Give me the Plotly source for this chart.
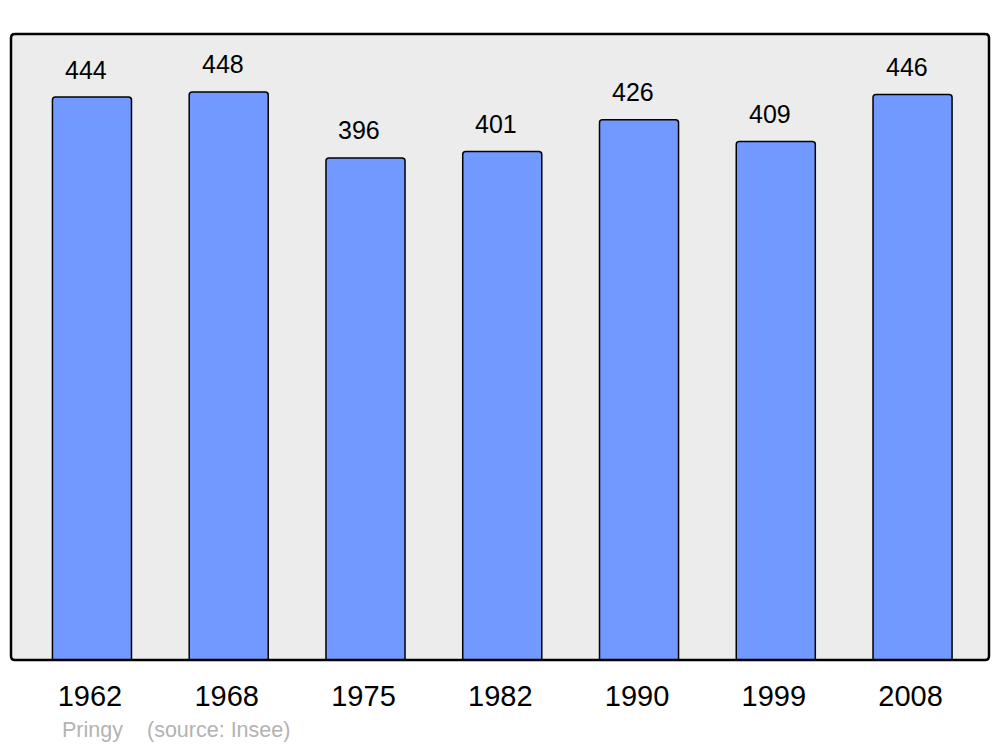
import plotly.graph_objects as go

years = ["1962", "1968", "1975", "1982", "1990", "1999", "2008"]
population = [444, 448, 396, 401, 426, 409, 446]
commune = "Pringy"
source_text = "(source: Insee)"

W, H = 1000, 747
L, R, T, B = 11, 11, 34, 87
pw, ph = W - L - R, H - T - B

fig = go.Figure(go.Bar(
    x=years, y=population, width=0.578,
    marker=dict(color="#7299ff", line=dict(color="black", width=1.5), cornerradius=3),
    hoverinfo="skip",
))

for i, v in enumerate(population):
    fig.add_annotation(x=i, y=v, text=str(v), showarrow=False, yshift=27.5, xshift=-6,
                       font=dict(family="Liberation Sans, Arial", size=25, color="black"),
                       yanchor="middle")

foot_y = -(730 - (T + ph)) / ph
foot_font = dict(family="Liberation Sans, Arial", size=21.5, color="#b3b3b3")
fig.add_annotation(xref="paper", yref="paper", x=(60 - L) / pw, y=foot_y,
                   xanchor="left", yanchor="middle", showarrow=False,
                   text=commune, font=foot_font)
fig.add_annotation(xref="paper", yref="paper", x=(145 - L) / pw, y=foot_y,
                   xanchor="left", yanchor="middle", showarrow=False,
                   text=source_text, font=foot_font)

# rounded frame
rx, ry = 4 / pw, 4 / ph
path = (f"M {rx},0 L {1-rx},0 Q 1,0 1,{ry} L 1,{1-ry} Q 1,1 {1-rx},1 "
        f"L {rx},1 Q 0,1 0,{1-ry} L 0,{ry} Q 0,0 {rx},0 Z")
fig.add_shape(type="path", xref="paper", yref="paper", path=path,
              line=dict(color="black", width=2.5), layer="above")

fig.update_layout(
    width=W, height=H, margin=dict(l=L, r=R, t=T, b=B),
    paper_bgcolor="white", plot_bgcolor="#ececec",
    showlegend=False,
    xaxis=dict(type="category", range=[-0.592, 6.559], showgrid=False, zeroline=False,
               showline=False, ticks="", ticklabelstandoff=16, ticklabelshift=-2,
               tickfont=dict(family="Liberation Sans, Arial", size=29, color="black")),
    yaxis=dict(range=[0, 493.7], showgrid=False, zeroline=False, showticklabels=False,
               showline=False, ticks=""),
)

fig.write_html("out.html", config={"displayModeBar": False},
               post_script="document.body.style.margin='0';document.body.style.overflow='hidden';")
